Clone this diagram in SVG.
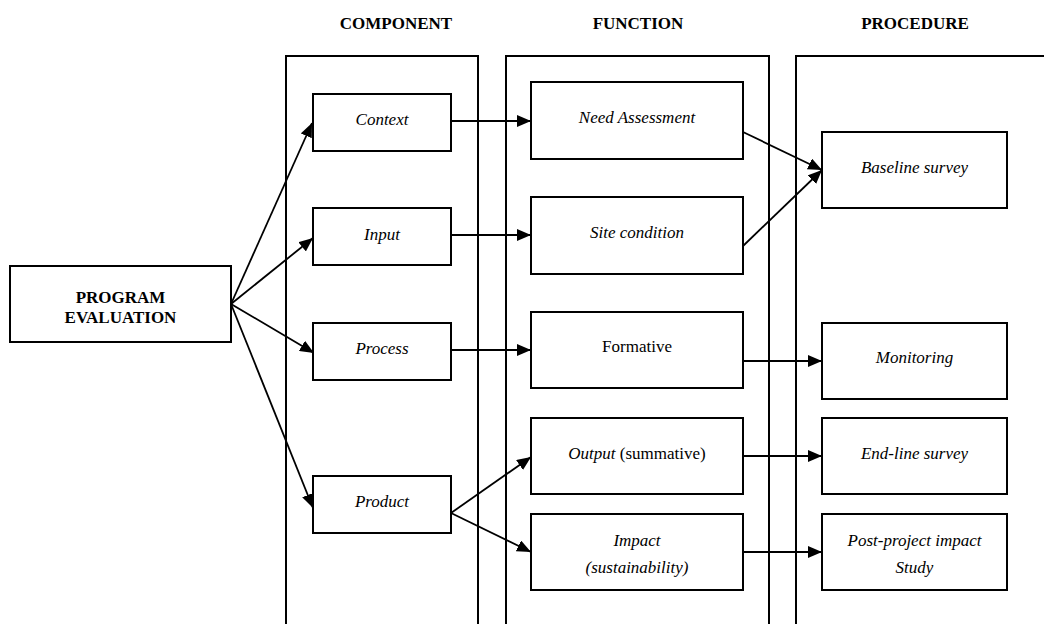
<svg xmlns="http://www.w3.org/2000/svg" width="1044" height="624" viewBox="0 0 1044 624">
<defs>
<style>
.col{fill:none;stroke:#000;stroke-width:2}
.box{fill:#fff;stroke:#000;stroke-width:2}
.hd{font-family:"Liberation Serif","Times New Roman",serif;font-weight:bold;font-size:17px;text-anchor:middle;fill:#000}
.t{font-family:"Liberation Serif","Times New Roman",serif;font-style:italic;font-size:17px;text-anchor:middle;fill:#000}
.u{font-style:normal}
.c{fill:none;stroke:#000;stroke-width:1.8;marker-end:url(#ah)}
</style>
<marker id="ah" viewBox="0 0 14 12" refX="14" refY="6" markerWidth="14" markerHeight="12" markerUnits="userSpaceOnUse" orient="auto">
<path d="M0,0 L14,6 L0,12 z" fill="#000"/>
</marker>
</defs>
<rect width="1044" height="624" fill="#fff"/>

<g id="columns">
<path class="col" d="M286,626 V56 H478 V626"/>
<path class="col" d="M506,626 V56 H769 V626"/>
<path class="col" d="M796,626 V56 H1046"/>
<text class="hd" x="396" y="29">COMPONENT</text>
<text class="hd" x="638" y="29">FUNCTION</text>
<text class="hd" x="915" y="29">PROCEDURE</text>
</g>

<g id="connectors">
<path class="c" d="M231,304 L312,123"/>
<path class="c" d="M231,304 L313,238"/>
<path class="c" d="M231,304 L314,353"/>
<path class="c" d="M231,304 L313,508"/>
<path class="c" d="M451,121 H531"/>
<path class="c" d="M451,235 H531"/>
<path class="c" d="M451,350 H531"/>
<path class="c" d="M451,513 L531,457"/>
<path class="c" d="M451,513 L531,552"/>
<path class="c" d="M743,132 L822,170"/>
<path class="c" d="M743,246 L822,170"/>
<path class="c" d="M743,361 H822"/>
<path class="c" d="M743,456 H822"/>
<path class="c" d="M743,552 H822"/>
</g>

<g id="program-evaluation">
<rect class="box" x="10" y="266" width="221" height="76"/>
<text class="hd" x="120.5" y="303">PROGRAM</text>
<text class="hd" x="120.5" y="323">EVALUATION</text>
</g>

<g id="context"><rect class="box" x="313" y="94" width="138" height="57"/><text class="t" x="382" y="125">Context</text></g>
<g id="input"><rect class="box" x="313" y="208" width="138" height="57"/><text class="t" x="382" y="240">Input</text></g>
<g id="process"><rect class="box" x="313" y="323" width="138" height="57"/><text class="t" x="382" y="354">Process</text></g>
<g id="product"><rect class="box" x="313" y="476" width="138" height="57"/><text class="t" x="382" y="507">Product</text></g>

<g id="need-assessment"><rect class="box" x="531" y="82" width="212" height="77"/><text class="t" x="637" y="123">Need Assessment</text></g>
<g id="site-condition"><rect class="box" x="531" y="197" width="212" height="77"/><text class="t" x="637" y="238">Site condition</text></g>
<g id="formative"><rect class="box" x="531" y="312" width="212" height="76"/><text class="t u" x="637" y="352">Formative</text></g>
<g id="output"><rect class="box" x="531" y="418" width="212" height="76"/><text class="t" x="637" y="459">Output<tspan class="u"> (summative)</tspan></text></g>
<g id="impact"><rect class="box" x="531" y="514" width="212" height="76"/><text class="t" x="637" y="546">Impact</text><text class="t" x="637" y="573">(sustainability)</text></g>

<g id="baseline-survey"><rect class="box" x="822" y="132" width="185" height="76"/><text class="t" x="914.5" y="173">Baseline survey</text></g>
<g id="monitoring"><rect class="box" x="822" y="323" width="185" height="76"/><text class="t" x="914.5" y="363">Monitoring</text></g>
<g id="end-line-survey"><rect class="box" x="822" y="418" width="185" height="76"/><text class="t" x="914.5" y="459">End-line survey</text></g>
<g id="post-project"><rect class="box" x="822" y="514" width="185" height="76"/><text class="t" x="914.5" y="546">Post-project impact</text><text class="t" x="914.5" y="573">Study</text></g>
</svg>
